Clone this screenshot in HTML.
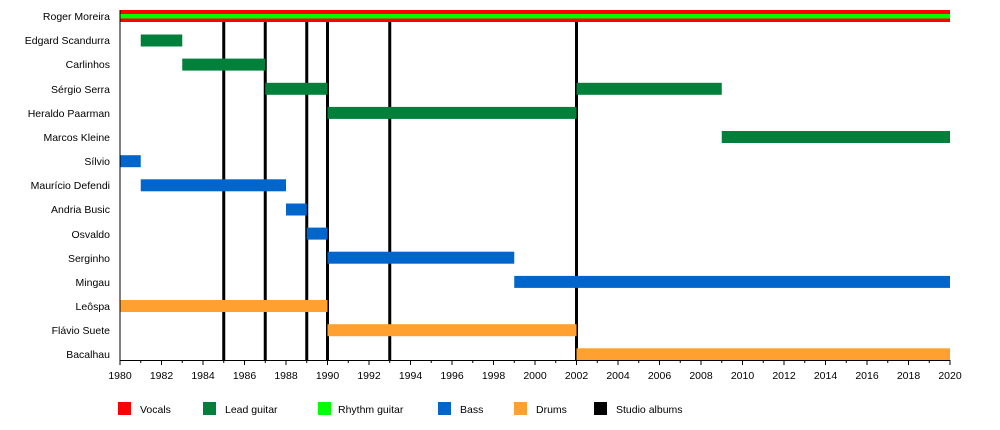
<!DOCTYPE html>
<html><head><meta charset="utf-8"><style>
html,body{margin:0;padding:0;background:#fff;}
svg{display:block;font-family:"Liberation Sans",sans-serif;}
</style></head><body>
<svg width="1000" height="430" viewBox="0 0 1000 430" xmlns="http://www.w3.org/2000/svg">
<g font-size="10.5" fill="#000" text-anchor="end">
<text x="110" y="20">Roger Moreira</text>
<text x="110" y="44">Edgard Scandurra</text>
<text x="110" y="68">Carlinhos</text>
<text x="110" y="93">Sérgio Serra</text>
<text x="110" y="117">Heraldo Paarman</text>
<text x="110" y="141">Marcos Kleine</text>
<text x="110" y="165">Sílvio</text>
<text x="110" y="189">Maurício Defendi</text>
<text x="110" y="213">Andria Busic</text>
<text x="110" y="238">Osvaldo</text>
<text x="110" y="262">Serginho</text>
<text x="110" y="286">Mingau</text>
<text x="110" y="310">Leôspa</text>
<text x="110" y="334">Flávio Suete</text>
<text x="110" y="358">Bacalhau</text>
</g>
<g stroke="#000" stroke-width="3">
<line x1="223.75" y1="22" x2="223.75" y2="360"/>
<line x1="265.25" y1="22" x2="265.25" y2="360"/>
<line x1="306.75" y1="22" x2="306.75" y2="360"/>
<line x1="327.5" y1="22" x2="327.5" y2="360"/>
<line x1="389.75" y1="22" x2="389.75" y2="360"/>
<line x1="576.5" y1="22" x2="576.5" y2="360"/>
</g>
<rect x="120" y="10" width="830" height="12" fill="#ff0000"/>
<rect x="120" y="14" width="830" height="4.5" fill="#00ff00"/>
<g fill="#00803a">
<rect x="140.75" y="34.5" width="41.5" height="12"/>
<rect x="182.25" y="58.6" width="83" height="12"/>
<rect x="265.25" y="82.8" width="62.25" height="12"/>
<rect x="576.5" y="82.8" width="145.25" height="12"/>
<rect x="327.5" y="106.9" width="249" height="12"/>
<rect x="721.75" y="131" width="228.25" height="12"/>
</g>
<g fill="#0066cc">
<rect x="120" y="155.2" width="20.75" height="12"/>
<rect x="140.75" y="179.3" width="145.25" height="12"/>
<rect x="286" y="203.5" width="20.75" height="12"/>
<rect x="306.75" y="227.6" width="20.75" height="12"/>
<rect x="327.5" y="251.7" width="186.75" height="12"/>
<rect x="514.25" y="275.9" width="435.75" height="12"/>
</g>
<g fill="#ffa030">
<rect x="120" y="300" width="207.5" height="12"/>
<rect x="327.5" y="324.2" width="249" height="12"/>
<rect x="576.5" y="348.3" width="373.5" height="12"/>
</g>
<line x1="120" y1="10" x2="120" y2="361" stroke="#000" stroke-width="1"/>
<line x1="120" y1="360.5" x2="950" y2="360.5" stroke="#000" stroke-width="1"/>
<g stroke="#000" stroke-width="1" id="ticks"></g>
<g font-size="10.5" text-anchor="middle" id="labels"></g>
<script>
(function(){var t=document.getElementById('ticks'),l=document.getElementById('labels'),ns='http://www.w3.org/2000/svg';
for(var y=1980;y<=2020;y++){var x=120+(y-1980)*20.75;var e=document.createElementNS(ns,'line');e.setAttribute('x1',x);e.setAttribute('x2',x);e.setAttribute('y1',360);e.setAttribute('y2',(y%2==0)?365:363);t.appendChild(e);
if(y%2==0){var s=document.createElementNS(ns,'text');s.setAttribute('x',x);s.setAttribute('y',379);s.textContent=y;l.appendChild(s);}}})();
</script>
<g font-size="10.5">
<rect x="118" y="402" width="13" height="13" fill="#ff0000"/><text x="140" y="413">Vocals</text>
<rect x="203" y="402" width="13" height="13" fill="#00803a"/><text x="225" y="413">Lead guitar</text>
<rect x="318" y="402" width="13" height="13" fill="#00ff00"/><text x="338" y="413">Rhythm guitar</text>
<rect x="438" y="402" width="13" height="13" fill="#0066cc"/><text x="460" y="413">Bass</text>
<rect x="514" y="402" width="13" height="13" fill="#ffa030"/><text x="536" y="413">Drums</text>
<rect x="594" y="402" width="13" height="13" fill="#000"/><text x="616" y="413">Studio albums</text>
</g>
</svg>
</body></html>
